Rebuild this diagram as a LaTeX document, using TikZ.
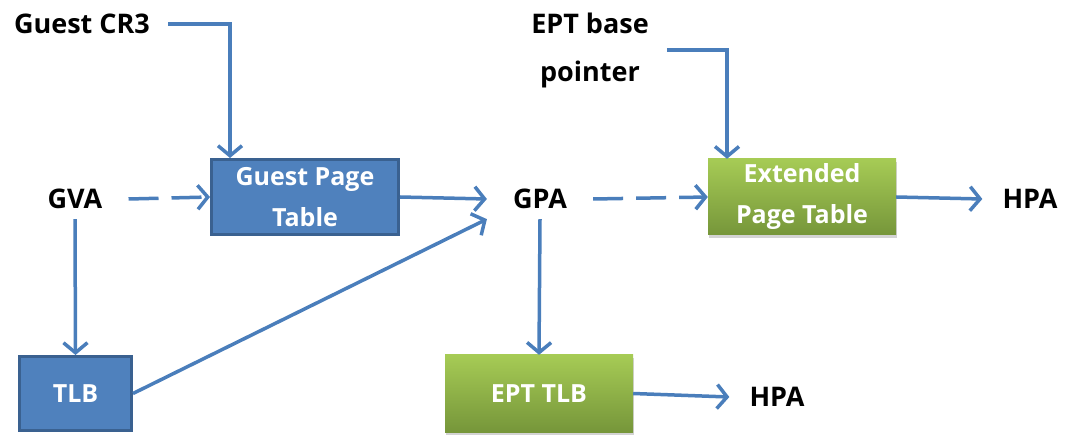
\documentclass[tikz,border=0pt]{standalone}
\usepackage{fontspec}
\setmainfont{Open Sans}
\usetikzlibrary{arrows.meta,shadows}

\definecolor{boxblue}{HTML}{4F81BD}
\definecolor{edgeblue}{HTML}{3A6190}
\definecolor{lineblue}{HTML}{4A7EBB}
\definecolor{greentop}{HTML}{A6CB55}
\definecolor{greenbot}{HTML}{76963A}

\tikzset{
	addr/.style={font=\fontsize{27}{48}\selectfont\bfseries, inner xsep=26pt, inner ysep=10pt, align=center},
	bluebox/.style={draw=edgeblue, fill=boxblue, line width=3pt, text=white, align=center,
		font=\fontsize{25}{41}\selectfont\bfseries, inner sep=0pt},
	greenbox/.style={top color=greentop, bottom color=greenbot, text=white, align=center,
		font=\fontsize{25}{41}\selectfont\bfseries, inner sep=0pt,
		drop shadow={opacity=0.35, shadow xshift=1pt, shadow yshift=-3pt}},
	link/.style={draw=lineblue, line width=3.5pt, -{Straight Barb[length=10pt,width=24pt]}},
	dlink/.style={link, dash pattern=on 30pt off 13pt}
}

\begin{document}
\begin{tikzpicture}[x=1pt,y=-1pt]
	\useasboundingbox (0,0) rectangle (1068,435);

	\node[addr,inner xsep=0pt] (cr3) at (82,24) {Guest CR3};
	\node[addr,inner xsep=0pt] (eptbase) at (590,50) {EPT base\\pointer};

	\node[addr] (gva) at (75,199) {GVA};
	\node[addr] (gpa) at (540,199) {GPA};
	\node[addr,inner xsep=20pt] (hpa) at (1030,199) {HPA};
	\node[addr,inner xsep=20pt] (hpa2) at (777,397) {HPA};

	\node[bluebox,minimum width=187pt,minimum height=75pt] (gpt) at (305,197) {Guest Page\\Table};
	\node[bluebox,minimum width=112pt,minimum height=74pt] (tlb) at (75.5,393.5) {TLB};
	\node[greenbox,minimum width=188pt,minimum height=76pt] (ept) at (802,197) {Extended\\Page Table};
	\node[greenbox,minimum width=188pt,minimum height=77pt] (epttlb) at (539,393.5) {EPT TLB};

	\draw[link] ([xshift=18pt]cr3.east) -| ([xshift=-75pt]gpt.north);
	\draw[link] ([xshift=18pt]eptbase.east) -| ([xshift=-75pt]ept.north);

	\draw[dlink] (gva.east) -- (gpt.west);
	\draw[link] (gva.south) -- (tlb.north);
	\draw[link] (gpt.east) -- (gva.east -| gpa.west);
	\draw[link] (tlb.east) -- (gpa.south west);
	\draw[dlink] (gpa.east) -- (ept.west);
	\draw[link] (ept.east) -- (hpa.west);
	\draw[link] (gpa.south) -- (epttlb.north);
	\draw[link] (epttlb.east) -- (hpa2.west);
\end{tikzpicture}
\end{document}
